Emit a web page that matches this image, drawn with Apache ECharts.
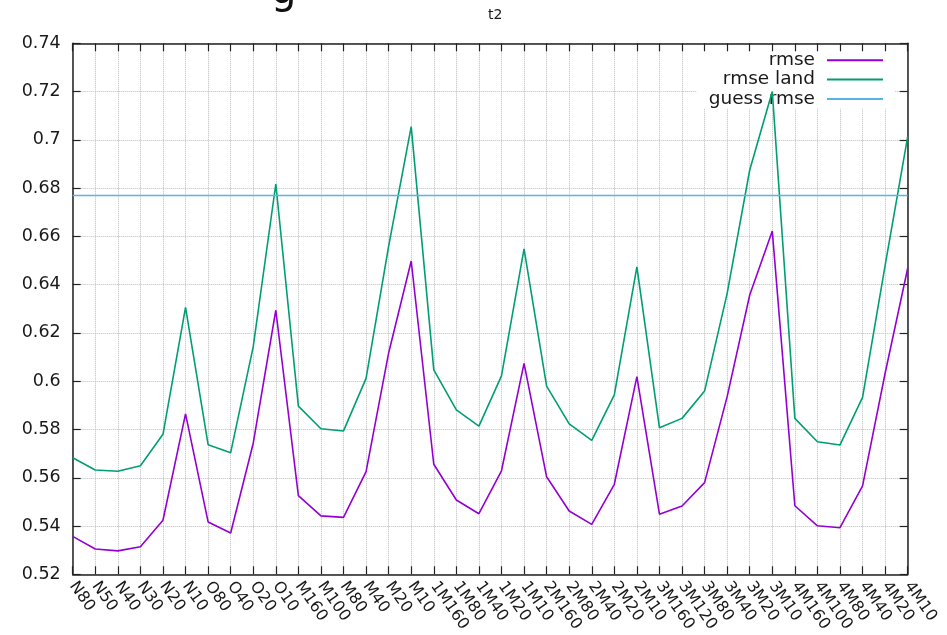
<!DOCTYPE html>
<html>
<head>
<meta charset="utf-8">
<script src="https://cdn.jsdelivr.net/npm/echarts@6/dist/echarts.min.js"></script>
<style>
html,body{margin:0;padding:0;background:#fff;}
#c{width:947px;height:635px;}
</style>
</head>
<body>
<div id="c"></div>
<script>
var categories = ['N80','N50','N40','N30','N20','N10','O80','O40','O20','O10','M160','M100','M80','M40','M20','M10','1M160','1M80','1M40','1M20','1M10','2M160','2M80','2M40','2M20','2M10','3M160','3M120','3M80','3M40','3M20','3M10','4M160','4M100','4M80','4M40','4M20','4M10'];
var rmse = [0.5357,0.5305,0.5297,0.5314,0.5424,0.5865,0.5417,0.5371,0.5743,0.6294,0.5526,0.5442,0.5436,0.5625,0.6117,0.6498,0.5656,0.5508,0.5451,0.5629,0.6074,0.5604,0.5462,0.5407,0.5573,0.6019,0.5449,0.5483,0.5580,0.5936,0.6357,0.6622,0.5484,0.5401,0.5393,0.5566,0.6033,0.6468];
var rmseLand = [0.5683,0.5632,0.5627,0.5650,0.5780,0.6306,0.5737,0.5704,0.6143,0.6817,0.5897,0.5803,0.5794,0.6012,0.6560,0.7055,0.6047,0.5881,0.5814,0.6022,0.6548,0.5980,0.5823,0.5755,0.5943,0.6474,0.5807,0.5846,0.5959,0.6364,0.6875,0.7200,0.5846,0.5749,0.5736,0.5933,0.6480,0.7013];
var guessRmse = 0.677;
var yTicks = {min: 0.52, max: 0.74, interval: 0.02};
var seriesNames = ['rmse', 'rmse land', 'guess rmse'];

var FONT = 'DejaVu Sans';
var TXT = '#1a1a1a';
var chart = echarts.init(document.getElementById('c'), null, {renderer: 'canvas'});
var axisLineStyle = {color: '#222', width: 1.5};
var tickStyle = {color: '#222', width: 1.2};
var gridLineStyle = {color: '#bdbdbd', width: 1, type: 'dotted'};

var option = {
  animation: false,
  color: ['#9400d3', '#009e73', '#56b4e9'],
  textStyle: {fontFamily: FONT},
  title: {
    text: 't2', left: 483, top: 3,
    textStyle: {fontFamily: FONT, fontSize: 14, fontWeight: 'normal', color: TXT}
  },
  graphic: [{
    type: 'text', left: 271, top: -27, silent: true,
    style: {text: 'g', font: '40px "DejaVu Sans"', fill: '#111'}
  }],
  legend: {
    data: seriesNames, orient: 'vertical', align: 'right',
    right: 52, top: 44.5, padding: [6, 12, 0, 12],
    backgroundColor: '#ffffff', z: 1,
    icon: 'rect', itemWidth: 56, itemHeight: 2, itemGap: 0,
    textStyle: {fontFamily: FONT, fontSize: 18.5, color: TXT, lineHeight: 19.4, padding: [0, 7, 0, 0]},
    selectedMode: false
  },
  grid: {left: 72.7, right: 39.3, top: 43.3, bottom: 60.7, containLabel: false, outerBoundsMode: 'none'},
  xAxis: [{
    type: 'category', data: categories, boundaryGap: false, position: 'bottom', z: 0,
    axisLine: {show: true, lineStyle: axisLineStyle},
    axisTick: {show: true, inside: true, length: 8, interval: 0, lineStyle: tickStyle},
    axisLabel: {show: true, interval: 0, rotate: -55, margin: 9, fontFamily: FONT, fontSize: 16, color: TXT},
    splitLine: {show: true, interval: 0, lineStyle: gridLineStyle}
  }, {
    type: 'category', data: categories, boundaryGap: false, position: 'top', z: 2,
    axisLine: {show: true, lineStyle: axisLineStyle},
    axisTick: {show: true, inside: true, length: 8, interval: 0, lineStyle: tickStyle},
    axisLabel: {show: false},
    splitLine: {show: false}
  }],
  yAxis: [{
    type: 'value', min: yTicks.min, max: yTicks.max, interval: yTicks.interval, position: 'left', z: 0,
    axisLine: {show: true, lineStyle: axisLineStyle},
    axisTick: {show: true, inside: true, length: 8, lineStyle: tickStyle},
    axisLabel: {show: true, margin: 12, fontFamily: FONT, fontSize: 17.5, color: TXT,
      formatter: function (v) { return String(+v.toFixed(2)); }},
    splitLine: {show: true, lineStyle: gridLineStyle}
  }, {
    type: 'value', min: yTicks.min, max: yTicks.max, interval: yTicks.interval, position: 'right', z: 2,
    axisLine: {show: true, lineStyle: axisLineStyle},
    axisTick: {show: true, inside: true, length: 8, lineStyle: tickStyle},
    axisLabel: {show: false},
    splitLine: {show: false}
  }],
  series: [{
    name: seriesNames[0], type: 'line', data: rmse, xAxisIndex: 0, yAxisIndex: 0,
    symbol: 'none', z: 3, lineStyle: {width: 1.6}
  }, {
    name: seriesNames[1], type: 'line', data: rmseLand, xAxisIndex: 0, yAxisIndex: 0,
    symbol: 'none', z: 3, lineStyle: {width: 1.6}
  }, {
    name: seriesNames[2], type: 'line', data: [], xAxisIndex: 0, yAxisIndex: 0,
    symbol: 'none', z: 3, lineStyle: {width: 1.5},
    markLine: {
      silent: true, symbol: ['none', 'none'], label: {show: false}, precision: 4,
      lineStyle: {color: '#56b4e9', width: 1.3, type: 'solid'},
      data: [{yAxis: guessRmse}]
    }
  }]
};
chart.setOption(option);
</script>
</body>
</html>
